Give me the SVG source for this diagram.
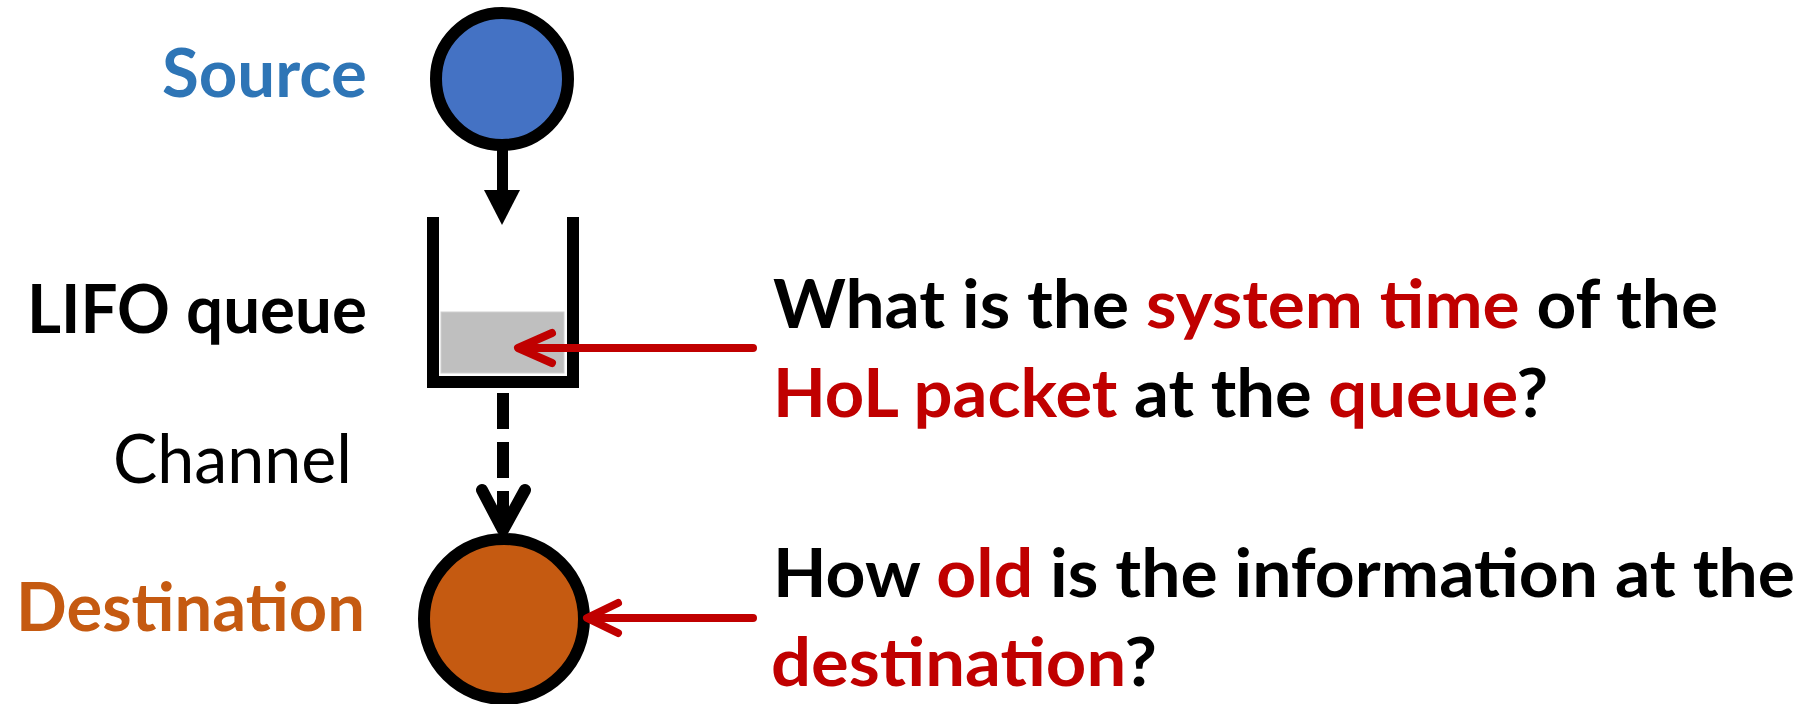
<svg xmlns="http://www.w3.org/2000/svg" width="1814" height="704" viewBox="0 0 1814 704">
  <style>
    .lbl { font-family: "Lato", "Liberation Sans", sans-serif; font-size: 67px; font-weight: 700; }
    .reg { font-weight: 400; }
    .q { font-family: "Lato", "Liberation Sans", sans-serif; font-size: 67px; font-weight: 700; fill: #000000; }
    .red { fill: #C00000; }
    .ring { stroke: #000000; stroke-width: 12; }
    .flow { stroke: #000000; stroke-width: 12; fill: none; }
    .pointer { stroke: #C00000; stroke-width: 8; fill: none; stroke-linecap: round; stroke-linejoin: round; }
  </style>

  <!-- Labels on the left -->
  <g id="labels">
    <text class="lbl" x="162" y="97" fill="#2E75B6" textLength="205" lengthAdjust="spacingAndGlyphs">Source</text>
    <text class="lbl" x="27" y="333" fill="#000000" textLength="340" lengthAdjust="spacingAndGlyphs">LIFO queue</text>
    <text class="lbl reg" x="113" y="483" fill="#000000" textLength="239" lengthAdjust="spacingAndGlyphs">Channel</text>
    <text class="lbl" x="16" y="631" fill="#C55A11" textLength="349" lengthAdjust="spacingAndGlyphs">Destination</text>
  </g>

  <!-- Source node -->
  <g id="source">
    <circle class="ring" cx="502" cy="79" r="66" fill="#4472C4"/>
  </g>

  <!-- LIFO queue: open container with the head-of-line packet -->
  <g id="queue">
    <rect x="441" y="312" width="123" height="61" fill="#BFBFBF" stroke="#D0D0D0" stroke-width="1"/>
    <path class="flow" d="M433,217 V382 H573 V217" stroke-linejoin="miter"/>
  </g>

  <!-- Destination node -->
  <g id="destination">
    <circle class="ring" cx="504" cy="619" r="80" fill="#C55A11"/>
  </g>

  <!-- Connectors -->
  <g id="connectors">
    <!-- source to queue -->
    <rect x="497" y="148" width="11" height="43" fill="#000000"/>
    <polygon points="484,190 520,190 502,225" fill="#000000"/>
    <!-- channel: queue to destination -->
    <line class="flow" x1="503" y1="393" x2="503" y2="528" stroke-dasharray="36 13"/>
    <polyline class="flow" points="482,490 503,530 525,490" stroke-linecap="round" stroke-linejoin="round"/>
    <!-- question pointers -->
    <line class="pointer" x1="753" y1="348" x2="520" y2="348" stroke-linecap="butt"/>
    <polyline class="pointer" points="552,333 518,348 552,363"/>
    <line class="pointer" x1="753" y1="618" x2="589" y2="618" stroke-linecap="butt"/>
    <polyline class="pointer" points="618,603 587,618 618,633"/>
  </g>

  <!-- Questions on the right -->
  <g id="questions">
    <text class="q" x="773" y="328" textLength="945" lengthAdjust="spacingAndGlyphs">What is the <tspan class="red">system time</tspan> of the</text>
    <text class="q" x="773" y="417" textLength="775" lengthAdjust="spacingAndGlyphs"><tspan class="red">HoL packet</tspan> at the <tspan class="red">queue</tspan>?</text>
    <text class="q" x="773" y="597" textLength="1022" lengthAdjust="spacingAndGlyphs">How <tspan class="red">old</tspan> is the information at the</text>
    <text class="q" x="771" y="686" textLength="386" lengthAdjust="spacingAndGlyphs"><tspan class="red">destination</tspan>?</text>
  </g>
</svg>
